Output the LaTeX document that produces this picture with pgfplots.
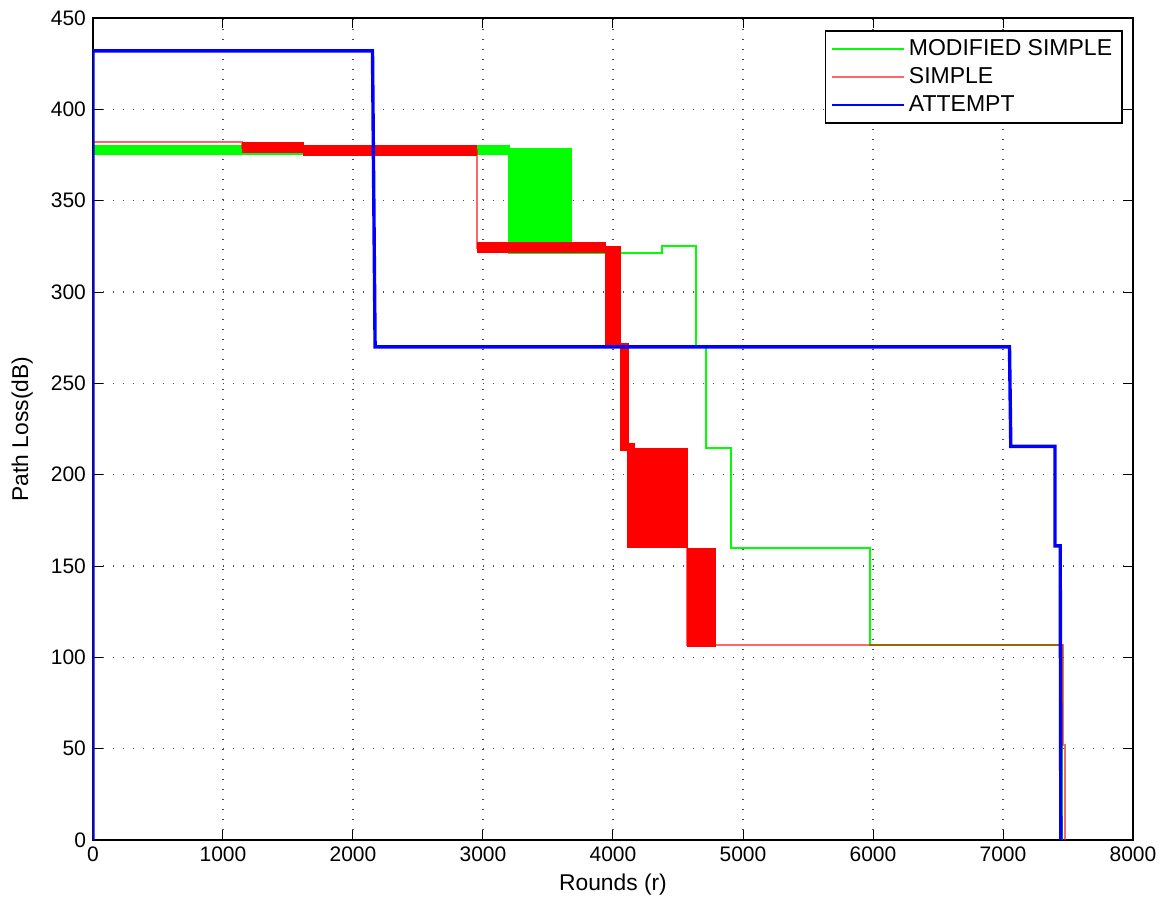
\documentclass[border=0pt]{standalone}
\usepackage{fontspec}
\setmainfont{Liberation Sans}
\usepackage{pgfplots}
\pgfplotsset{compat=1.18}
\begin{document}
\begin{tikzpicture}
\useasboundingbox (-46.5pt,-31pt) rectangle (539.5pt,420pt);
\begin{axis}[
  scale only axis, width=520pt, height=411pt,
  at={(0,0)}, anchor=south west,
  xmin=0, xmax=8000, ymin=0, ymax=450,
  xtick={0,1000,...,8000}, ytick={0,50,...,450},
  tick align=inside, major tick length=5pt,
  /pgf/number format/assume math mode=true,
  /pgf/number format/1000 sep={},
  tick label style={font=\fontsize{10.5}{12}\selectfont, black},
  xlabel={Rounds (r)}, ylabel={Path Loss(dB)},
  every axis x label/.style={at={(axis description cs:0.5,-0.0547)}, anchor=center, font=\fontsize{11.4}{13}\selectfont},
  every axis y label/.style={at={(axis description cs:-0.068,0.5)}, rotate=90, anchor=center, font=\fontsize{11.4}{13}\selectfont},
  grid=major, grid style={black!70, line width=0.6pt, dash pattern=on 0.7pt off 4.3pt},
  axis line style={line width=0.6pt},
  every tick/.style={black, line width=0.5pt},
  legend style={at={(rel axis cs:0.9904,0.9854)}, anchor=north east, draw=black, line width=0.9pt, fill=white,
    font=\fontsize{11.5}{13}\selectfont, inner xsep=3pt, inner ysep=2pt, row sep=0pt,
    nodes={inner xsep=2pt, inner ysep=2pt, text height=8.5pt, text depth=1.5pt}},
  legend cell align=left,
  legend image code/.code={\draw[#1, line width=0.7pt] (0pt,0pt) -- (36pt,0pt);},
]
% MODIFIED SIMPLE (green)
\addplot[color=green, line width=1pt] coordinates {
 (0,0) (0,378) (3200,378) (3200,321.5) (4375,321.5) (4375,325) (4636,325) (4636,270)
 (4713,270) (4713,214.5) (4910,214.5) (4910,160) (5977,160) (5977,106.7) (7450,106.7) (7450,0)};
\addlegendentry{MODIFIED SIMPLE}
\addplot[fill=green, draw=none, forget plot] coordinates {(0,375) (3205,375) (3205,380.5) (0,380.5)};
\addplot[fill=green, draw=none, forget plot] coordinates {(3202,321) (3687,321) (3687,378.6) (3202,378.6)};
% SIMPLE (red)
\addplot[color=red, opacity=0.6, line width=1pt] coordinates {
 (0,0) (0,382.3) (1144,382.3) (1144,379) (1617,379) (1617,377.5) (2951,377.5) (2951,324.3)
 (4000,324.3) (4000,271) (4090,271) (4090,214) (4140,214) (4140,190) (4572,190) (4572,106.5)
 (7463,106.5) (7463,52) (7478,52) (7478,0)};
\addlegendentry{SIMPLE}
\addplot[fill=red, draw=none, forget plot] coordinates {(1144,376) (1620,376) (1620,382.3) (1144,382.3)};
\addplot[fill=red, draw=none, forget plot] coordinates {(1615,374.5) (2955,374.5) (2955,380.5) (1615,380.5)};
\addplot[fill=red, draw=none, forget plot] coordinates {(2951,321.5) (3945,321.5) (3945,327.2) (2951,327.2)};
\addplot[fill=red, draw=none, forget plot] coordinates {(3938,270) (4059,270) (4059,325) (3938,325)};
\addplot[fill=red, draw=none, forget plot] coordinates {(4054,213) (4125,213) (4125,272) (4054,272)};
\addplot[fill=red, draw=none, forget plot] coordinates {(4110,214) (4170,214) (4170,217.5) (4110,217.5)};
\addplot[fill=red, draw=none, forget plot] coordinates {(4110,159.7) (4578,159.7) (4578,214.4) (4110,214.4)};
\addplot[fill=red, draw=none, forget plot] coordinates {(4567,105.8) (4792,105.8) (4792,159.7) (4567,159.7)};
% ATTEMPT (blue)
\addplot[color=blue, line width=1.7pt] coordinates {
 (0,0) (0,432) (2150,432) (2170,270) (7050,270) (7060,215.5) (7400,215.5) (7400,161)
 (7440,161) (7445,0)};
\addlegendentry{ATTEMPT}
\end{axis}
\end{tikzpicture}
\end{document}
